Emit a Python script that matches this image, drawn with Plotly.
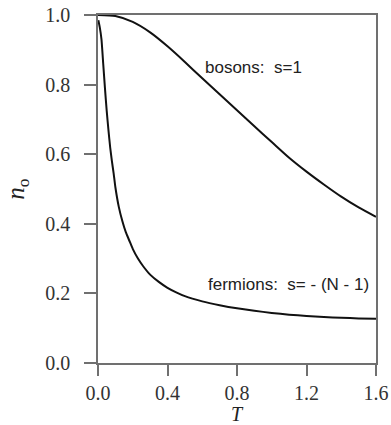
import plotly.graph_objects as go

# Bosons curve (s = 1)
T_bosons = [0.0, 0.1, 0.2, 0.3, 0.4, 0.5, 0.6, 0.7, 0.8, 0.9, 1.0, 1.1, 1.2, 1.3, 1.4, 1.5, 1.6]
n_bosons = [1.0, 0.997, 0.98, 0.95, 0.91, 0.865, 0.818, 0.772, 0.726, 0.68, 0.635, 0.59, 0.55, 0.513, 0.478, 0.447, 0.42]

# Fermions curve (s = -(N-1))
T_fermions = [0.002, 0.01, 0.02, 0.03, 0.04, 0.05, 0.06, 0.07, 0.08, 0.09, 0.1, 0.12, 0.14, 0.16, 0.18,
              0.2, 0.23, 0.26, 0.3, 0.35, 0.4, 0.45, 0.5, 0.6, 0.7, 0.8, 0.9, 1.0, 1.1, 1.2, 1.3, 1.4, 1.5, 1.6]
n_fermions = [0.985, 0.965, 0.93, 0.86, 0.79, 0.725, 0.67, 0.62, 0.58, 0.545, 0.505, 0.448, 0.408, 0.376, 0.352,
              0.328, 0.3, 0.278, 0.254, 0.233, 0.216, 0.203, 0.192, 0.177, 0.166, 0.157, 0.15, 0.144, 0.139,
              0.135, 0.132, 0.13, 0.128, 0.127]

x_ticks = [0.0, 0.4, 0.8, 1.2, 1.6]
x_tick_labels = ["0.0", "0.4", "0.8", "1.2", "1.6"]
y_ticks = [0.0, 0.2, 0.4, 0.6, 0.8, 1.0]
y_tick_labels = ["0.0", "0.2", "0.4", "0.6", "0.8", "1.0"]

label_bosons = "bosons:\u00a0 s=1"
label_fermions = "fermions:\u00a0 s= - (N - 1)"
x_title = "<i>T</i>"
y_title = "<i>n</i><sub>o</sub>"

fig = go.Figure()
fig.add_trace(go.Scatter(x=T_bosons, y=n_bosons, mode="lines",
                         line=dict(color="#111", width=2, shape="spline", smoothing=0.6),
                         showlegend=False, hoverinfo="skip"))
fig.add_trace(go.Scatter(x=T_fermions, y=n_fermions, mode="lines",
                         line=dict(color="#111", width=2, shape="spline", smoothing=0.5),
                         showlegend=False, hoverinfo="skip"))

sans = "Liberation Sans, Arial, sans-serif"
serif = "Liberation Serif, Times New Roman, serif"

fig.add_annotation(x=0.606, y=0.849, text=label_bosons, showarrow=False,
                   xanchor="left", yanchor="middle",
                   font=dict(family=sans, size=17, color="#222"))
fig.add_annotation(x=0.624, y=0.2245, text=label_fermions, showarrow=False,
                   xanchor="left", yanchor="middle",
                   font=dict(family=sans, size=17, color="#222"))
# x-axis title placed below the tick labels
fig.add_annotation(xref="paper", yref="paper", x=0.5, y=-0.146, text=x_title, showarrow=False,
                   xanchor="center", yanchor="middle", height=22, borderpad=0,
                   font=dict(family=serif, size=20, color="#222"))

axis_color = "#707070"
fig.update_xaxes(range=[0, 1.6], tickvals=x_ticks, ticktext=x_tick_labels,
                 showline=True, linecolor=axis_color, linewidth=1.5, mirror=True,
                 ticks="outside", ticklen=11, tickwidth=1.5, tickcolor=axis_color,
                 showgrid=False, zeroline=False, ticklabelstandoff=0,
                 tickfont=dict(family=serif, size=20, color="#333"))
fig.update_yaxes(range=[0, 1.0], tickvals=y_ticks, ticktext=y_tick_labels,
                 showline=True, linecolor=axis_color, linewidth=1.5, mirror=True,
                 ticks="outside", ticklen=12, tickwidth=1.5, tickcolor=axis_color,
                 showgrid=False, zeroline=False, ticklabelstandoff=10,
                 tickfont=dict(family=serif, size=20, color="#333"),
                 title=dict(text=y_title, font=dict(family=serif, size=25, color="#222"), standoff=14))

fig.update_layout(width=391, height=425, margin=dict(l=98, r=15, t=15, b=62, autoexpand=False),
                  plot_bgcolor="white", paper_bgcolor="white")

fig.write_html("out.html")
